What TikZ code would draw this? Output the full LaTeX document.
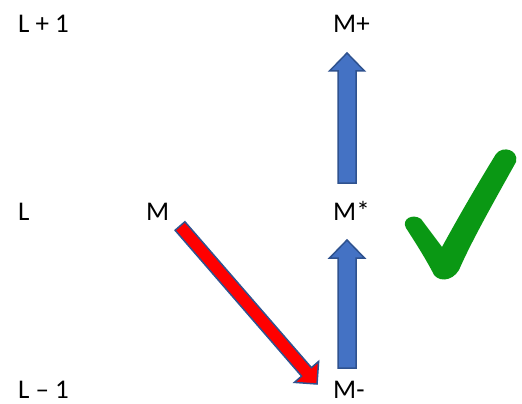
\documentclass[tikz,border=0pt]{standalone}
\usepackage{fontspec}
\setmainfont{Carlito}
\usetikzlibrary{calc}
\definecolor{fillblue}{RGB}{68,114,196}
\definecolor{lineblue}{RGB}{47,82,143}
\definecolor{tickgreen}{RGB}{10,152,20}
\newcommand{\blockarrow}[6]{%
\coordinate (hd) at ($(#3)!#6!(#2)$);
\filldraw[#1] ($(#2)!#4!90:(#3)$) -- ($(hd)!#4!90:(#3)$) -- ($(hd)!#5!90:(#3)$) -- (#3)
  -- ($(hd)!#5!-90:(#3)$) -- ($(hd)!#4!-90:(#3)$) -- ($(#2)!#4!-90:(#3)$) -- cycle;}
\begin{document}
\begin{tikzpicture}[x=1pt,y=-1pt,
  lbl/.style={anchor=base west,inner sep=0pt,text depth=0pt,font=\fontsize{27}{30}\selectfont},
  bluearrow/.style={fill=fillblue,draw=lineblue,line width=1.5pt,line join=miter},
  redarrow/.style={fill=red,draw=lineblue,line width=1.5pt,line join=miter}]
\useasboundingbox (0,0) rectangle (522,404);
\node[lbl] (lup) at (18,33) {L + 1};
\node[lbl] (lmid) at (18,220) {L};
\node[lbl] (ldown) at (18,398) {L – 1};
\node[lbl] (m) at (146,220) {M};
\node[lbl] (mplus) at (333,33) {M+};
\node[lbl] (mstar) at (333,220) {M*};
\node[lbl] (mminus) at (333,398) {M-};
\coordinate (redtail) at (180,226);
\coordinate (redtip) at (317,384);
\coordinate (uptail) at (347,183);
\coordinate (uptip) at (347,53);
\coordinate (lowtail) at (347,368);
\coordinate (lowtip) at (347,240);
\blockarrow{redarrow}{redtail}{redtip}{6.5pt}{16pt}{16pt}
\blockarrow{bluearrow}{uptail}{uptip}{9pt}{17.5pt}{18pt}
\blockarrow{bluearrow}{lowtail}{lowtip}{9pt}{17.5pt}{18pt}
\fill[tickgreen] (406,228) .. controls (401,219) and (413,213) .. (421,219)
  -- (442,247) .. controls (460,214) and (480,180) .. (496,154)
  .. controls (503,145) and (519,150) .. (516,162)
  .. controls (496,198) and (472,240) .. (459,270)
  .. controls (452,282) and (436,283) .. (432,271)
  .. controls (424,256) and (415,242) .. (406,228) -- cycle;
\end{tikzpicture}
\end{document}
